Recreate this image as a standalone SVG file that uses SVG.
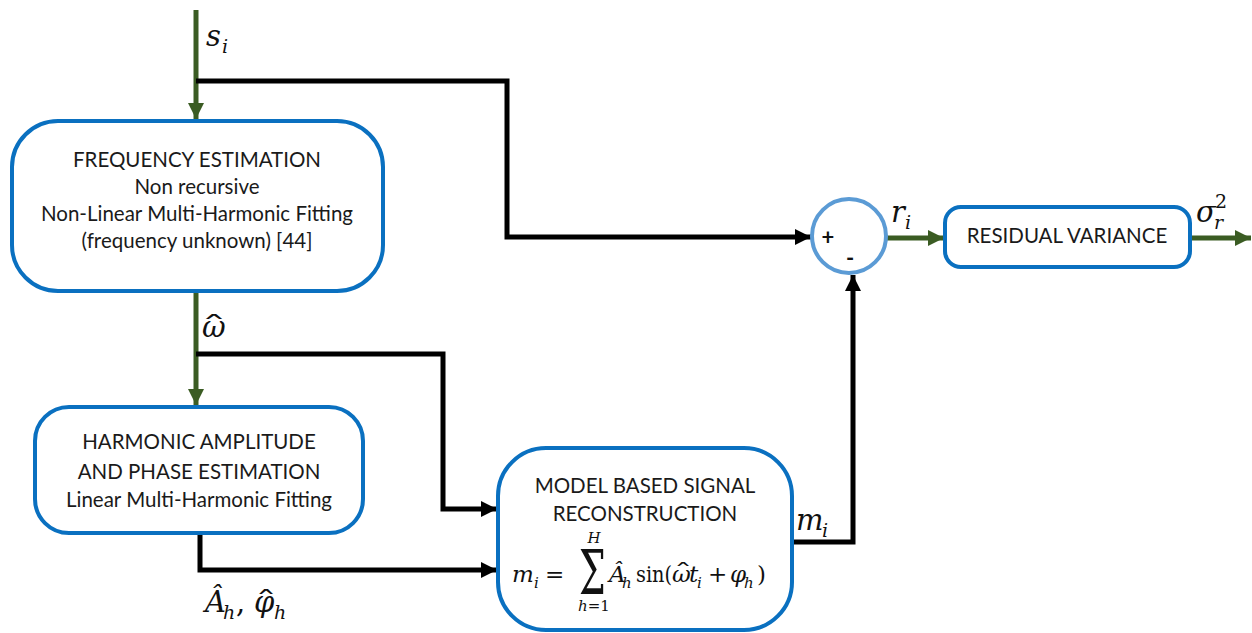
<svg xmlns="http://www.w3.org/2000/svg" width="1252" height="633" viewBox="0 0 1252 633">
<defs>
<marker id="ag" markerUnits="userSpaceOnUse" markerWidth="18" markerHeight="18" refX="16" refY="8" orient="auto"><path d="M0,0 L16,8 L0,16 z" fill="#3B5C23"/></marker>
<marker id="ab" markerUnits="userSpaceOnUse" markerWidth="18" markerHeight="18" refX="16" refY="8" orient="auto"><path d="M0,0 L16,8 L0,16 z" fill="#000"/></marker>
</defs>
<style>
.box{fill:#fff;stroke:#0A70C0;stroke-width:4}
.g{fill:none;stroke:#3B5C23;stroke-width:5}
.k{fill:none;stroke:#000;stroke-width:5;stroke-linejoin:miter}
.t{font-family:Lato,"Open Sans","Liberation Sans",sans-serif;font-size:20.5px;fill:#1a1a1a;text-anchor:middle}
.m{font-family:"DejaVu Serif","Liberation Serif",serif;font-style:italic;fill:#111}
.r{font-family:"DejaVu Serif","Liberation Serif",serif;font-style:normal;fill:#111}
</style>
<rect width="1252" height="633" fill="#fff"/>
<g id="connectors">
<path class="g" d="M196,10 V119" marker-end="url(#ag)"/>
<path class="k" d="M196,81 H507 V237 H811" marker-end="url(#ab)"/>
<path class="g" d="M196,291 V405" marker-end="url(#ag)"/>
<path class="k" d="M196,354 H443 V509 H497" marker-end="url(#ab)"/>
<path class="k" d="M200,533 V570 H497" marker-end="url(#ab)"/>
<path class="k" d="M792,542 H853 V275" marker-end="url(#ab)"/>
<path class="g" d="M887,238 H944" marker-end="url(#ag)"/>
<path class="g" d="M1190,238 H1251" marker-end="url(#ag)"/>
</g>
<g id="freq">
<rect class="box" x="12" y="121" width="371" height="170" rx="46"/>
<text class="t" x="197" y="167">FREQUENCY ESTIMATION</text>
<text class="t" x="197" y="194">Non recursive</text>
<text class="t" x="197" y="221">Non-Linear Multi-Harmonic Fitting</text>
<text class="t" x="197" y="248">(frequency unknown) [44]</text>
</g>
<g id="harm">
<rect class="box" x="35" y="407" width="328" height="126" rx="34"/>
<text class="t" x="199" y="449">HARMONIC AMPLITUDE</text>
<text class="t" x="199" y="479">AND PHASE ESTIMATION</text>
<text class="t" x="199" y="507">Linear Multi-Harmonic Fitting</text>
</g>
<g id="model">
<rect class="box" x="498" y="448" width="294" height="182" rx="48"/>
<text class="t" x="645" y="493">MODEL BASED SIGNAL</text>
<text class="t" x="645" y="521">RECONSTRUCTION</text>
<text class="m" x="512" y="582" font-size="23">m</text>
<text class="m" x="534" y="588" font-size="15">i</text>
<text class="r" x="545" y="582" font-size="23">=</text>
<text class="r" font-size="36" transform="translate(579,594) scale(1.05,1.7)">Σ</text>
<text class="m" x="594" y="543" font-size="15" text-anchor="middle">H</text>
<text class="m" x="594" y="611" font-size="15" text-anchor="middle">h<tspan font-style="normal">=1</tspan></text>
<text class="m" x="609" y="582" font-size="23">Â</text>
<text class="m" x="622" y="588" font-size="15">h</text>
<text class="r" x="636" y="582" font-size="23" textLength="36" lengthAdjust="spacingAndGlyphs">sin(</text>
<text class="m" x="672" y="582" font-size="23">ω</text>
<text class="r" font-size="22" text-anchor="middle" transform="translate(683,580) scale(1.7,1)">ˆ</text>
<text class="m" x="689" y="582" font-size="23">t</text>
<text class="m" x="697" y="588" font-size="15">i</text>
<text class="r" x="708" y="582" font-size="23">+</text>
<text class="m" x="730" y="582" font-size="23">φ</text>
<text class="m" x="744" y="588" font-size="15">h</text>
<text class="r" x="757" y="582" font-size="23">)</text>
</g>
<g id="sum">
<circle cx="849" cy="236" r="37" fill="#fff" stroke="#5B9BD5" stroke-width="4"/>
<text x="828" y="245" font-family="Lato,'Liberation Sans',sans-serif" font-size="22" font-weight="bold" text-anchor="middle" fill="#111">+</text>
<text x="850" y="266" font-family="Lato,'Liberation Sans',sans-serif" font-size="22" font-weight="bold" text-anchor="middle" fill="#111">-</text>
</g>
<g id="resvar">
<rect class="box" x="945" y="207" width="245" height="60" rx="16"/>
<text class="t" x="1067" y="243">RESIDUAL VARIANCE</text>
</g>
<g id="labels">
<text class="m" x="206" y="46" font-size="29">s</text>
<text class="m" x="222" y="53" font-size="19">i</text>
<text class="m" x="202" y="337" font-size="29">ω</text>
<text class="r" font-size="26" text-anchor="middle" transform="translate(214,335) scale(2,1)">ˆ</text>
<text class="m" x="891" y="222" font-size="29">r</text>
<text class="m" x="905" y="229" font-size="19">i</text>
<text class="m" x="1196" y="222" font-size="29">σ</text>
<text class="m" x="1214" y="229" font-size="19">r</text>
<text class="r" x="1215" y="208" font-size="19">2</text>
<text class="m" x="796" y="530" font-size="29">m</text>
<text class="m" x="822" y="537" font-size="19">i</text>
<text class="m" x="205" y="612" font-size="29">Â</text>
<text class="m" x="223" y="619" font-size="19">h</text>
<text class="r" x="236" y="612" font-size="29">,</text>
<text class="m" x="254" y="612" font-size="29">φ</text>
<text class="r" font-size="26" text-anchor="middle" transform="translate(266,610) scale(1.7,1)">ˆ</text>
<text class="m" x="274" y="619" font-size="19">h</text>
</g>
</svg>
